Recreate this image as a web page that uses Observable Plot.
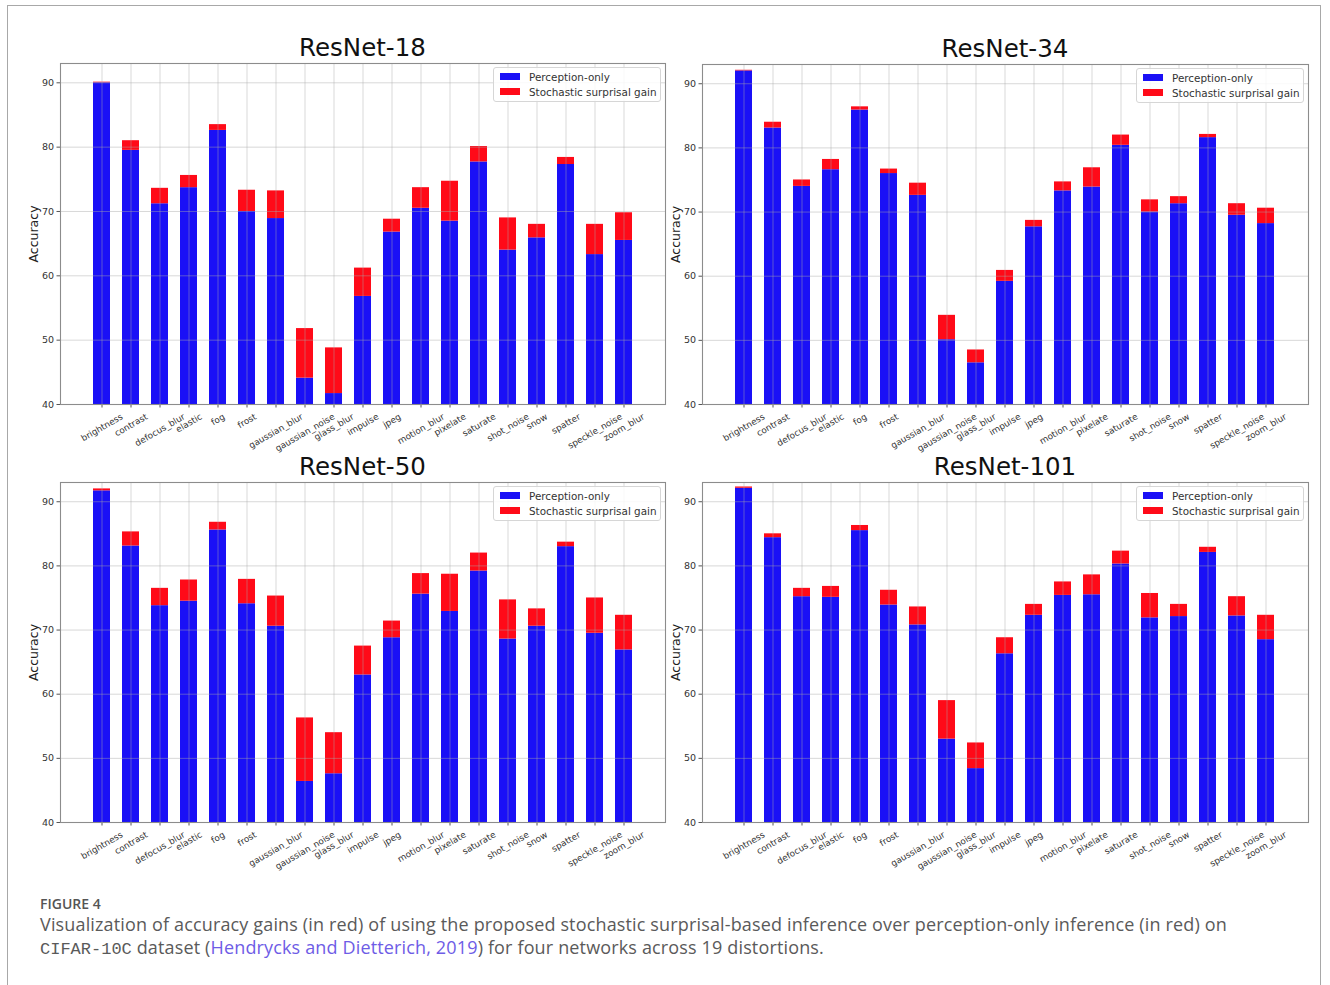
<!DOCTYPE html>
<html>
<head>
<meta charset="utf-8">
<script src="https://cdn.jsdelivr.net/npm/d3@7"></script>
<script src="https://cdn.jsdelivr.net/npm/@observablehq/plot@0.6"></script>
<style>
  html, body { margin: 0; padding: 0; background: #fff; }
  body { width: 1330px; height: 985px; position: relative; overflow: hidden; }
  #card { position: absolute; left: 7px; top: 5px; width: 1314px; height: 1000px; border: 1px solid #a8a8a8; box-sizing: border-box; }
  .panel { position: absolute; }
  .title { position: absolute; font-family: "DejaVu Sans", sans-serif; font-size: 24.5px; color: #111; text-align: center; line-height: 1; white-space: nowrap; }
  .legend { position: absolute; background: rgba(255,255,255,0.85); border: 1px solid #d6d6d6; border-radius: 3px; font-family: "DejaVu Sans", sans-serif; font-size: 10.4px; color: #333; box-sizing: border-box; padding: 1px 6px 2px 6px; white-space: nowrap; }
  .legend .row { display: flex; align-items: center; height: 15px; white-space: nowrap; }
  .legend .sw { width: 20px; height: 7px; margin-right: 9px; flex: none; }
  #figlabel { position: absolute; left: 40px; top: 894px; font-family: "Open Sans", sans-serif; font-weight: 600; font-size: 14px; color: #555; }
  #caption { position: absolute; left: 40px; top: 913px; width: 1260px; font-family: "Open Sans", sans-serif; font-size: 18px; letter-spacing: 0.15px; line-height: 23px; color: #5a5a5a; }
  #caption .mono { font-family: "Liberation Mono", monospace; font-size: 17px; letter-spacing: 0; white-space: nowrap; }
  #caption .link { color: #6e5ce6; }
</style>
</head>
<body>
<div id="card"></div>
<div id="figlabel">FIGURE 4</div>
<div id="caption">Visualization of accuracy gains (in red) of using the proposed stochastic surprisal-based inference over perception-only inference (in red) on <span class="mono">CIFAR-10C</span> dataset (<span class="link">Hendrycks and Dietterich, 2019</span>) for four networks across 19 distortions.</div>
<script>
// ---------- data ----------
const categories = ["brightness","contrast","defocus_blur","elastic","fog","frost","gaussian_blur","gaussian_noise","glass_blur","impulse","jpeg","motion_blur","pixelate","saturate","shot_noise","snow","spatter","speckle_noise","zoom_blur"];

const seriesNames = ["Perception-only", "Stochastic surprisal gain"];
const networks = ["ResNet-18", "ResNet-34", "ResNet-50", "ResNet-101"];
const yTicks = [40, 50, 60, 70, 80, 90];
const yLabel = "Accuracy";

// perception-only accuracy (blue bar tops)
const r18Perception  = [90.0,79.5,71.2,73.7,82.6,70.0,68.9,44.1,41.7,56.8,66.8,70.5,68.5,77.7,64.0,65.9,77.3,63.3,65.5];
// accuracy with stochastic surprisal (red bar tops)
const r18Total       = [90.1,81.0,73.6,75.6,83.5,73.3,73.2,51.8,48.8,61.2,68.8,73.7,74.7,80.1,69.0,68.0,78.4,68.0,69.8];

const r34Perception  = [92.0,83.1,74.0,76.6,85.9,76.0,72.6,50.1,46.5,59.2,67.7,73.3,73.9,80.4,70.0,71.3,81.6,69.5,68.2];
const r34Total       = [92.1,84.0,75.0,78.2,86.4,76.7,74.5,53.9,48.5,60.9,68.7,74.7,76.9,82.0,71.9,72.4,82.1,71.3,70.6];

const r50Perception  = [91.7,83.1,73.8,74.5,85.6,74.1,70.6,46.4,47.6,63.0,68.8,75.6,72.9,79.2,68.6,70.6,83.0,69.5,66.9];
const r50Total       = [92.0,85.3,76.5,77.8,86.8,77.9,75.3,56.3,54.0,67.5,71.4,78.8,78.7,82.0,74.7,73.3,83.7,75.0,72.3];

const r101Perception = [92.1,84.4,75.2,75.1,85.5,73.9,70.8,53.0,48.4,66.3,72.3,75.4,75.5,80.3,71.9,72.1,82.1,72.2,68.5];
const r101Total      = [92.3,85.0,76.5,76.8,86.3,76.2,73.6,59.0,52.4,68.8,74.0,77.5,78.6,82.3,75.7,74.0,82.9,75.2,72.3];

const perceptionSeries = [r18Perception, r34Perception, r50Perception, r101Perception];
const totalSeries = [r18Total, r34Total, r50Total, r101Total];

// ---------- style / layout ----------
const BLUE = "#1a10f6";
const RED = "#ff0a18";
const colors = [BLUE, RED];
const yDomain = [40, 93];
// axes frame boxes [left, right, top, bottom] in page px
const frames = [
  [60, 665, 63, 404],
  [702, 1308, 64, 404],
  [60, 665, 482, 822],
  [702, 1308, 482, 822]
];
const ML = 45, MR = 5, MT = 5, MB = 52;
const tickFont = 8.8;
const tickFamily = "DejaVu Sans";

// measure text for matplotlib-style centered rotated labels
const ctx = document.createElement("canvas").getContext("2d");
ctx.font = `${tickFont}px "${tickFamily}"`;
const ang = 30 * Math.PI / 180;
function labelOffset(s) {
  const L = ctx.measureText(s).width;
  const h = tickFont * 1.17;
  const bh = L * Math.sin(ang) + h * Math.cos(ang);
  return 3.5 + 3.5 + bh / 2;
}

networks.forEach((name, k) => {
  const [fl, fr, ft, fb] = frames[k];
  const data = categories.map((c, i) => ({cat: c, perc: perceptionSeries[k][i], total: totalSeries[k][i]}));

  const labelMarks = categories.map(c =>
    Plot.text([c], {
      x: d => d, frameAnchor: "bottom", dy: labelOffset(c),
      rotate: -30, textAnchor: "middle", lineAnchor: "middle",
      fontSize: tickFont, fontFamily: tickFamily, fill: "#333"
    })
  );

  const chart = Plot.plot({
    width: (fr - fl) + ML + MR,
    height: (fb - ft) + MT + MB,
    marginLeft: ML, marginRight: MR, marginTop: MT, marginBottom: MB,
    style: {fontFamily: tickFamily, background: "transparent", overflow: "visible"},
    x: {type: "band", domain: categories, paddingInner: 0.4, paddingOuter: 0.93, align: 0.5, axis: null},
    y: {domain: yDomain, axis: null},
    marks: [
      Plot.barY(data, {x: "cat", y: "perc", fill: colors[0], clip: true}),
      Plot.barY(data, {x: "cat", y1: "perc", y2: "total", fill: colors[1], clip: true}),
      Plot.gridY(yTicks, {stroke: "#a8a8a8", strokeOpacity: 0.45, strokeWidth: 1}),
      Plot.gridX(categories, {stroke: "#a8a8a8", strokeOpacity: 0.45, strokeWidth: 1}),
      Plot.axisY(yTicks, {tickSize: 3.5, tickPadding: 3, fontSize: 9.5, fill: "#333", stroke: "#555", label: null}),
      Plot.axisX(categories, {tickSize: 3.5, tickFormat: () => "", stroke: "#555", label: null}),
      Plot.frame({stroke: "#8c8c8c", strokeWidth: 1.1}),
      Plot.text([yLabel], {frameAnchor: "left", dx: -27, rotate: -90, fontSize: 12.5, fill: "#222", textAnchor: "middle", lineAnchor: "middle"}),
      ...labelMarks
    ]
  });

  const panel = document.createElement("div");
  panel.className = "panel";
  panel.style.left = (fl - ML) + "px";
  panel.style.top = (ft - MT) + "px";
  panel.appendChild(chart);
  document.body.appendChild(panel);

  // title
  const t = document.createElement("div");
  t.className = "title";
  t.textContent = name;
  t.style.left = fl + "px";
  t.style.width = (fr - fl) + "px";
  t.style.top = (ft - 27) + "px";
  document.body.appendChild(t);

  // legend
  const lg = document.createElement("div");
  lg.className = "legend";
  lg.style.width = "168px";
  lg.style.height = "35px";
  lg.style.left = (fr - 4 - 168) + "px";
  lg.style.top = (ft + 4) + "px";
  seriesNames.forEach((s, j) => {
    const row = document.createElement("div");
    row.className = "row";
    const sw = document.createElement("div");
    sw.className = "sw";
    sw.style.background = colors[j];
    const tx = document.createElement("span");
    tx.textContent = s;
    row.appendChild(sw); row.appendChild(tx);
    lg.appendChild(row);
  });
  document.body.appendChild(lg);
});
</script>
</body>
</html>
